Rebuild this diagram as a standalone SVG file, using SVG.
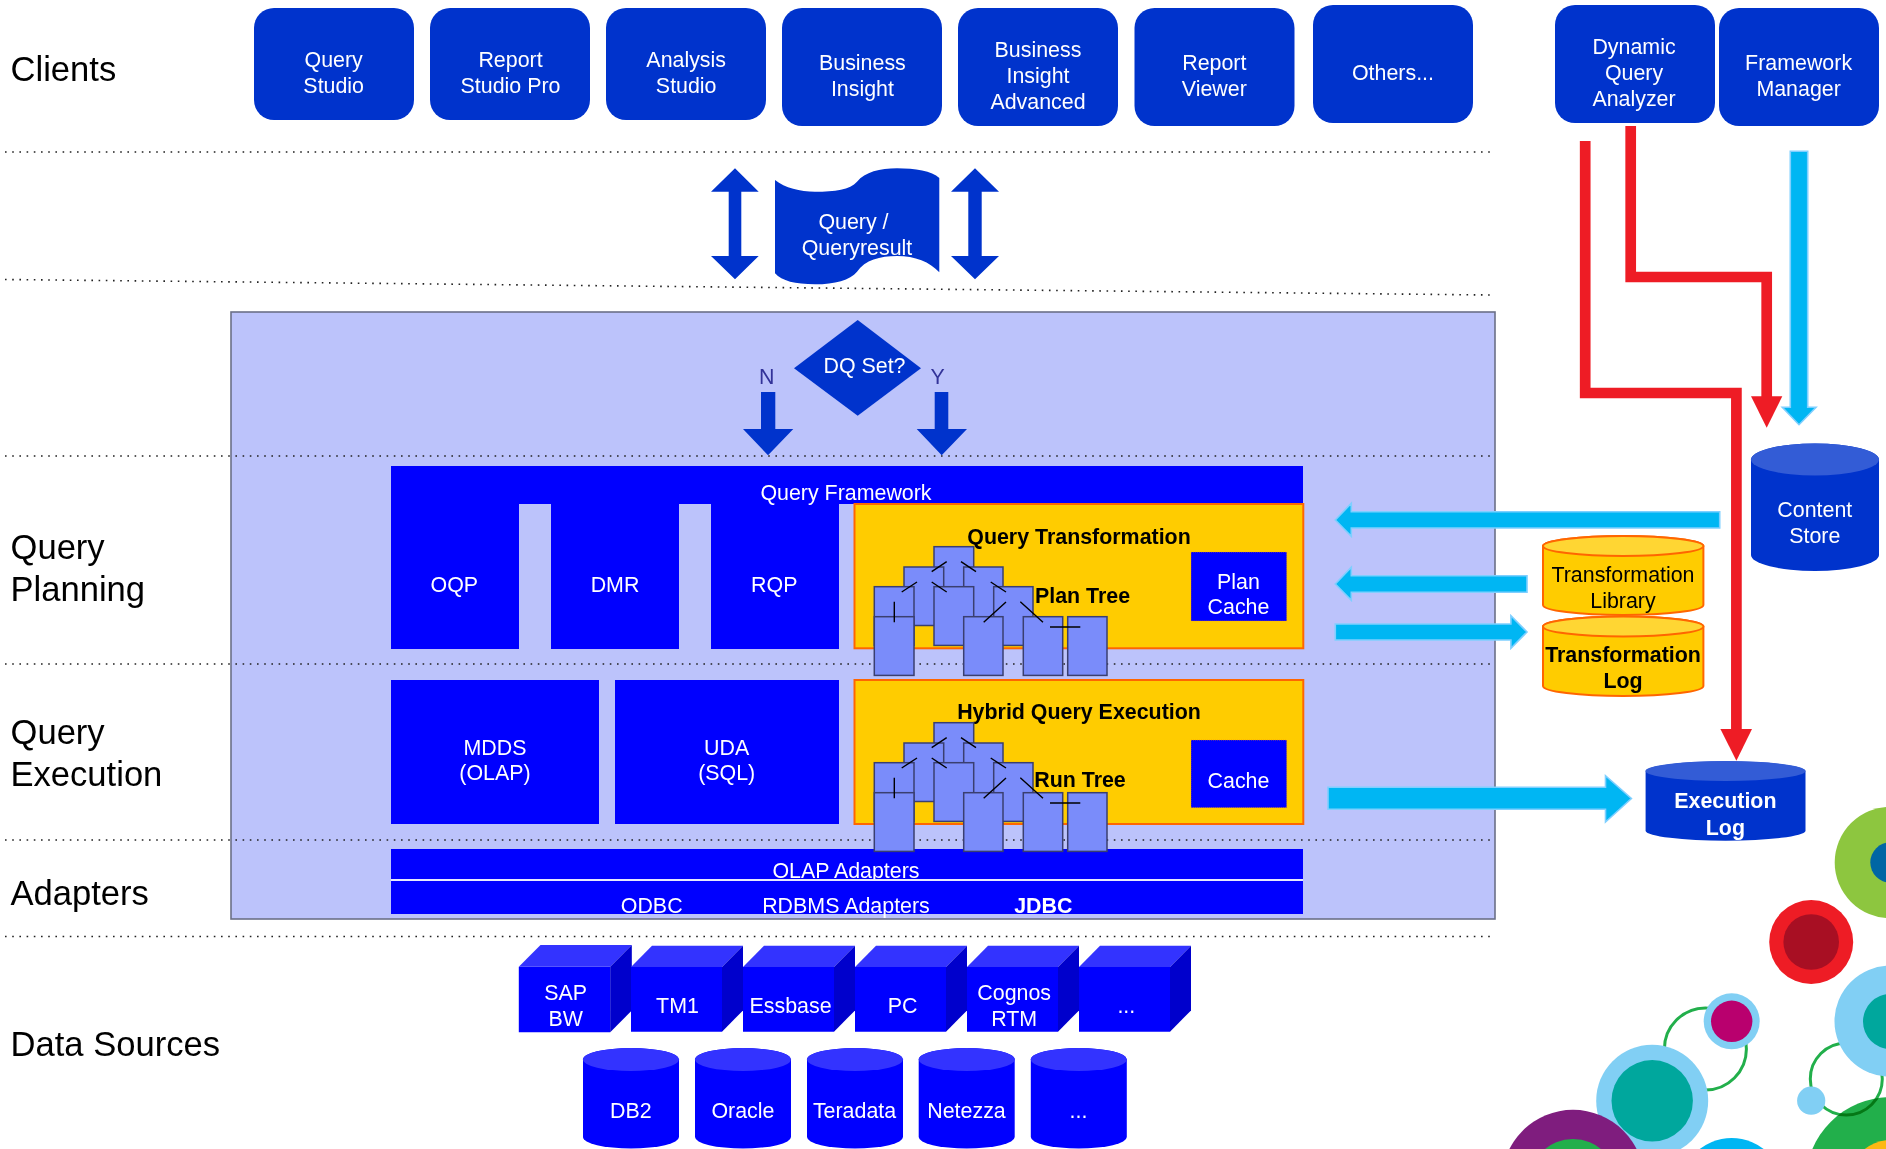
<svg xmlns="http://www.w3.org/2000/svg" xmlns:xlink="http://www.w3.org/1999/xlink" width="1886" height="1149" viewBox="0 0 1886 1149">
<style>
text{font-family:"Liberation Sans",Arial,sans-serif;font-size:21.4px;text-anchor:middle}
.w{fill:#fff}.k{fill:#000}.b{font-weight:bold}
.lab{font-size:34.6px;text-anchor:start;fill:#000}
.client{fill:#0033CC}
.blue{fill:#0000FF}
.dark{fill:#0033CC}
.yel{fill:#FFCC00;stroke:#FF6600;stroke-width:2}
.ytop{fill:#FFD633;stroke:#FF6600;stroke-width:2}
.cache{fill:#0000FF;stroke:#FF9900;stroke-width:.6;stroke-dasharray:1 1}
.dots{fill:none;stroke:#222;stroke-width:1.6;stroke-dasharray:1.6 5.6}
.tn{fill:#7A8CFA;stroke:#3A3F70;stroke-width:1.5}
.tl{stroke:#000;stroke-width:1.4;fill:none}
.cy{fill:#00B6F3;stroke:#7FCFFF;stroke-width:1.6}
.red{fill:#EE1C25}
.redl{fill:none;stroke:#EE1C25;stroke-width:10.7;stroke-linejoin:miter}
.ft{fill:#3333FF}.fr{fill:#0000CC}
.dtop{fill:#335CD6}
.ring{fill:none;stroke:#22AF4B;stroke-width:3}
</style>
<defs>
<g id="tree">
<rect class="tn" x="934" y="546.7" width="39.7" height="58.7"/>
<rect class="tn" x="904" y="567" width="39.7" height="58.5"/>
<rect class="tn" x="963.7" y="567" width="39.3" height="58.5"/>
<rect class="tn" x="874.3" y="586.7" width="39.7" height="58.7"/>
<rect class="tn" x="993.7" y="586.7" width="39.3" height="58.7"/>
<rect class="tn" x="934" y="586.7" width="39.7" height="58.7"/>
<rect class="tn" x="874.3" y="616.7" width="39.7" height="58.7"/>
<rect class="tn" x="963.7" y="616.7" width="39.3" height="58.7"/>
<rect class="tn" x="1023.3" y="616.7" width="39.4" height="58.7"/>
<rect class="tn" x="1067.7" y="616.7" width="39.3" height="58.7"/>
<path class="tl" d="M931.7 571.7L946.7 561.7M961 561.7L976 571.7M901.7 592L917 582M931.7 582L946.7 592M990.7 582L1006 592M894.3 601.7V622.3M1006 602L983.7 622.3M1020.3 601.7L1043 622.3M1050 627H1080.3"/>
</g>
</defs>
<rect width="1886" height="1149" fill="#fff"/>

<g id="decoration">
<circle class="ring" cx="1705.4" cy="1049" r="41"/>
<circle cx="1890.5" cy="862.5" r="55.8" fill="#8DC63F"/><circle cx="1890.5" cy="862.5" r="20.2" fill="#0066A4"/>
<circle cx="1811.2" cy="942" r="42" fill="#EE1C25"/><circle cx="1811.2" cy="942" r="27.8" fill="#A80F23"/>
<circle cx="1890.7" cy="1182" r="85" fill="#22AF4B"/><circle cx="1890.7" cy="1182" r="42" fill="#FDB813"/>
<circle class="ring" cx="1846.3" cy="1079" r="36" style="mix-blend-mode:multiply"/>
<circle cx="1890" cy="1021.2" r="55.5" fill="#81CFF4"/><circle cx="1890.5" cy="1021.5" r="27.5" fill="#00A79D"/>
<circle cx="1811.2" cy="1100.7" r="14.1" fill="#81CFF4"/>
<circle cx="1652.2" cy="1100.8" r="56" fill="#81CFF4"/><circle cx="1652.2" cy="1100.8" r="40.7" fill="#00A79D"/>
<circle cx="1731.7" cy="1021.3" r="28" fill="#81CFF4"/><circle cx="1731.7" cy="1021.3" r="20.7" fill="#B9006E"/>
<circle cx="1573" cy="1181" r="71.2" fill="#7F1D7E"/><circle cx="1573" cy="1183" r="44" fill="#22AF4B"/>
<circle cx="1731.7" cy="1190" r="52" fill="#00B6F3"/>
</g>

<g id="engine-panel"><rect x="231" y="312" width="1264" height="607" fill="#BCC3FB" stroke="#6B7088" stroke-width="1.6"/></g>

<g id="separators">
<line class="dots" x1="5" y1="152" x2="1490" y2="152"/>
<line class="dots" x1="5" y1="279.5" x2="1490" y2="295"/>
<line class="dots" x1="5" y1="456" x2="1490" y2="456"/>
<line class="dots" x1="5" y1="664" x2="1490" y2="664"/>
<line class="dots" x1="5" y1="840" x2="1490" y2="840"/>
<line class="dots" x1="5" y1="936.5" x2="1490" y2="936.5"/>
</g>

<g id="layer-labels">
<text class="lab" x="10.5" y="81">Clients</text>
<text class="lab" x="10.5" y="559">Query</text><text class="lab" x="10.5" y="601">Planning</text>
<text class="lab" x="10.5" y="744">Query</text><text class="lab" x="10.5" y="786">Execution</text>
<text class="lab" x="10.5" y="905">Adapters</text>
<text class="lab" x="10.5" y="1056">Data Sources</text>
</g>

<g id="query-studio"><rect class="client" x="254" y="8" width="160" height="112" rx="20"/><text class="w" x="333.7" y="67">Query</text><text class="w" x="333.7" y="92.5">Studio</text></g>
<g id="report-studio-pro"><rect class="client" x="430" y="8" width="160" height="112" rx="20"/><text class="w" x="510.5" y="67">Report</text><text class="w" x="510.5" y="92.5">Studio Pro</text></g>
<g id="analysis-studio"><rect class="client" x="606" y="8" width="160" height="112" rx="20"/><text class="w" x="686.2" y="67">Analysis</text><text class="w" x="686.2" y="92.5">Studio</text></g>
<g id="business-insight"><rect class="client" x="782" y="8" width="160" height="118" rx="20"/><text class="w" x="862.4" y="70">Business</text><text class="w" x="862.4" y="96">Insight</text></g>
<g id="business-insight-advanced"><rect class="client" x="958" y="8" width="160" height="118" rx="20"/><text class="w" x="1038" y="57">Business</text><text class="w" x="1038" y="83">Insight</text><text class="w" x="1038" y="108.5">Advanced</text></g>
<g id="report-viewer"><rect class="client" x="1134.5" y="8" width="160" height="118" rx="20"/><text class="w" x="1214.3" y="70">Report</text><text class="w" x="1214.3" y="96">Viewer</text></g>
<g id="others"><rect class="client" x="1313" y="5" width="160" height="118" rx="20"/><text class="w" x="1393" y="80">Others...</text></g>
<g id="dynamic-query-analyzer"><rect class="client" x="1555" y="5" width="160" height="118" rx="20"/><text class="w" x="1634" y="54">Dynamic</text><text class="w" x="1634" y="80">Query</text><text class="w" x="1634" y="106">Analyzer</text></g>
<g id="framework-manager"><rect class="client" x="1719" y="8" width="160" height="118" rx="20"/><text class="w" x="1798.6" y="70">Framework</text><text class="w" x="1798.6" y="96">Manager</text></g>

<g id="query-result"><path class="dark" d="M775 180C785 188 800 191.7 815 191.7C835 191.7 850 190 857 181.7C865 172 880 168.3 897 168.3C915 168.3 932 171 939.3 178V272.3C930 262 915 256 897 256C880 256 865 260 857 271.7C850 280 835 284.3 815 284.3C795 284.3 782 281 775 273.3Z"/><text class="w" x="853.5" y="229">Query /</text><text class="w" x="857" y="254.5">Queryresult</text></g>

<g id="dq-set"><polygon class="dark" points="794,368.3 857.7,320 921,368.3 857.7,415.7"/><text class="w" x="864.5" y="372.5">DQ Set?</text></g>
<text x="766.7" y="383.5" fill="#333399">N</text>
<text x="937.7" y="383.5" fill="#333399">Y</text>

<g id="query-framework"><path class="blue" d="M391 466H1303V504H839V649H711V504H679V649H551V504H519V649H391Z"/><text class="w" x="846" y="500">Query Framework</text><text class="w" x="454.3" y="591.7">OQP</text><text class="w" x="615" y="591.7">DMR</text><text class="w" x="774.3" y="591.7">RQP</text></g>

<g id="query-transformation"><rect class="yel" x="854.5" y="504" width="448.8" height="144.3"/><text class="k b" x="1079" y="544">Query Transformation</text><text class="k b" x="1082.5" y="602.7">Plan Tree</text></g>
<g id="plan-cache"><rect class="cache" x="1191" y="552" width="95.7" height="69"/><text class="w" x="1238.5" y="588.7">Plan</text><text class="w" x="1238.5" y="614">Cache</text></g>

<g id="mdds"><rect class="blue" x="391" y="680" width="208" height="144"/><text class="w" x="495" y="755">MDDS</text><text class="w" x="495" y="780">(OLAP)</text></g>
<g id="uda"><rect class="blue" x="615" y="680" width="224" height="144"/><text class="w" x="726.7" y="755">UDA</text><text class="w" x="726.7" y="780">(SQL)</text></g>

<g id="hybrid-query-execution"><rect class="yel" x="854.5" y="680" width="448.8" height="144"/><text class="k b" x="1079" y="719">Hybrid Query Execution</text><text class="k b" x="1080" y="787.3">Run Tree</text></g>
<g id="cache"><rect class="cache" x="1191" y="740" width="95.7" height="67.7"/><text class="w" x="1238.5" y="788.3">Cache</text></g>

<g id="olap-adapters"><rect class="blue" x="391" y="849" width="912" height="30"/><text class="w" x="846" y="878.3">OLAP Adapters</text></g>
<rect x="391" y="879" width="912" height="2" fill="#E6E8FF"/>
<g id="rdbms-adapters"><rect class="blue" x="391" y="881" width="912" height="33"/><text class="w" x="651.7" y="912.7">ODBC</text><text class="w" x="846" y="912.7">RDBMS Adapters</text><text class="w b" x="1043.3" y="912.7">JDBC</text></g>

<g id="plan-tree"><use href="#tree" xlink:href="#tree"/></g>
<g id="run-tree"><use href="#tree" xlink:href="#tree" y="176"/></g>

<g id="transformation-library"><path class="yel" d="M1543 546A80.2 10 0 0 1 1703.4 546V605A80.2 10 0 0 1 1543 605Z"/><ellipse class="ytop" cx="1623.2" cy="546" rx="80.2" ry="10"/><text class="k" x="1623" y="582.3">Transformation</text><text class="k" x="1623" y="608.3">Library</text></g>
<g id="transformation-log"><path class="yel" d="M1543 626.5A80.2 10 0 0 1 1703.4 626.5V686A80.2 10 0 0 1 1543 686Z"/><ellipse class="ytop" cx="1623.2" cy="626.5" rx="80.2" ry="10"/><text class="k b" x="1623" y="662.3">Transformation</text><text class="k b" x="1623" y="688.3">Log</text></g>
<g id="content-store"><path class="dark" d="M1751 459.5A64 16 0 0 1 1879 459.5V555A64 16 0 0 1 1751 555Z"/><ellipse class="dtop" cx="1815" cy="459.5" rx="64" ry="16"/><text class="w" x="1814.8" y="517.3">Content</text><text class="w" x="1814.8" y="543.3">Store</text></g>
<g id="execution-log"><path class="dark" d="M1645.6 771A80 10 0 0 1 1805.5 771V831A80 10 0 0 1 1645.6 831Z"/><ellipse class="dtop" cx="1725.5" cy="771" rx="80" ry="10"/><text class="w b" x="1725.4" y="808.3">Execution</text><text class="w b" x="1725.4" y="835">Log</text></g>

<g id="sap-bw"><polygon class="blue" points="518.8,966.7 610.2,966.7 610.2,1032.3 518.8,1032.3"/><polygon class="ft" points="518.8,966.7 540.5,945 631.8,945 610.2,966.7"/><polygon class="fr" points="610.2,966.7 631.8,945 631.8,1010.5 610.2,1032.3"/><text class="w" x="565.7" y="1000">SAP</text><text class="w" x="565.7" y="1025.7">BW</text></g>
<g id="tm1"><polygon class="blue" points="631,967 722,967 722,1031.7 631,1031.7"/><polygon class="ft" points="631,967 652,945.7 743,945.7 722,967"/><polygon class="fr" points="722,967 743,945.7 743,1010.4 722,1031.7"/><text class="w" x="677.5" y="1012.7">TM1</text></g>
<g id="essbase"><polygon class="blue" points="743,967 834,967 834,1031.7 743,1031.7"/><polygon class="ft" points="743,967 764,945.7 855,945.7 834,967"/><polygon class="fr" points="834,967 855,945.7 855,1010.4 834,1031.7"/><text class="w" x="790.6" y="1012.7">Essbase</text></g>
<g id="pc"><polygon class="blue" points="855,967 946,967 946,1031.7 855,1031.7"/><polygon class="ft" points="855,967 876,945.7 967,945.7 946,967"/><polygon class="fr" points="946,967 967,945.7 967,1010.4 946,1031.7"/><text class="w" x="902.7" y="1012.7">PC</text></g>
<g id="cognos-rtm"><polygon class="blue" points="967,967 1058,967 1058,1031.7 967,1031.7"/><polygon class="ft" points="967,967 988,945.7 1079,945.7 1058,967"/><polygon class="fr" points="1058,967 1079,945.7 1079,1010.4 1058,1031.7"/><text class="w" x="1014.2" y="1000">Cognos</text><text class="w" x="1014.2" y="1025.7">RTM</text></g>
<g id="cube-more"><polygon class="blue" points="1079,967 1170,967 1170,1031.7 1079,1031.7"/><polygon class="ft" points="1079,967 1100,945.7 1191,945.7 1170,967"/><polygon class="fr" points="1170,967 1191,945.7 1191,1010.4 1170,1031.7"/><text class="w" x="1126.3" y="1012.7">...</text></g>

<g id="db2"><path class="blue" d="M583 1059.5A48 11.5 0 0 1 679 1059.5V1137A48 11.5 0 0 1 583 1137Z"/><ellipse class="ft" cx="631" cy="1059.5" rx="48" ry="11.5"/><text class="w" x="630.9" y="1117.7">DB2</text></g>
<g id="oracle"><path class="blue" d="M695 1059.5A48 11.5 0 0 1 791 1059.5V1137A48 11.5 0 0 1 695 1137Z"/><ellipse class="ft" cx="743" cy="1059.5" rx="48" ry="11.5"/><text class="w" x="742.9" y="1117.7">Oracle</text></g>
<g id="teradata"><path class="blue" d="M807 1059.5A48 11.5 0 0 1 903 1059.5V1137A48 11.5 0 0 1 807 1137Z"/><ellipse class="ft" cx="855" cy="1059.5" rx="48" ry="11.5"/><text class="w" x="854.5" y="1117.7">Teradata</text></g>
<g id="netezza"><path class="blue" d="M918.7 1059.5A48 11.5 0 0 1 1014.7 1059.5V1137A48 11.5 0 0 1 918.7 1137Z"/><ellipse class="ft" cx="966.7" cy="1059.5" rx="48" ry="11.5"/><text class="w" x="966.5" y="1117.7">Netezza</text></g>
<g id="cylinder-more"><path class="blue" d="M1030.8 1059.5A48 11.5 0 0 1 1126.8 1059.5V1137A48 11.5 0 0 1 1030.8 1137Z"/><ellipse class="ft" cx="1078.8" cy="1059.5" rx="48" ry="11.5"/><text class="w" x="1078.5" y="1117.7">...</text></g>

<g id="connectors">
<polygon class="dark" points="735,168.3 758.7,191.7 741.3,191.7 741.3,256 758.7,256 735,279.3 711,256 728.7,256 728.7,191.7 711,191.7"/>
<polygon class="dark" points="975,168.3 999,191.7 981.7,191.7 981.7,256 999,256 975,279.3 951,256 968.3,256 968.3,191.7 951,191.7"/>
<polygon class="dark" points="761,392 775.3,392 775.3,429 793.3,429 768,455.3 743,429 761,429"/>
<polygon class="dark" points="934.7,392 948.3,392 948.3,429 967,429 941.7,455.3 916.7,429 934.7,429"/>
<path class="redl" d="M1585.2 141V393H1736.4V730"/>
<polygon class="red" points="1720.4,729 1752,729 1736.4,760.7"/>
<path class="redl" d="M1630.7 126V277H1766.7V397"/>
<polygon class="red" points="1751,396.3 1782.3,396.3 1766.7,427.7"/>
<polygon class="cy" points="1790.3,151.3 1807.7,151.3 1807.7,407.3 1816,407.3 1799,424.7 1782.3,407.3 1790.3,407.3"/>
<polygon class="cy" points="1719.7,511.7 1719.7,528 1351.3,528 1351.3,536.3 1335.3,520 1351.3,503.3 1351.3,511.7"/>
<polygon class="cy" points="1527,575.7 1527,592.3 1351.3,592.3 1351.3,600.3 1335.3,584 1351.3,567.3 1351.3,575.7"/>
<polygon class="cy" points="1335.3,624 1510.9,624 1510.9,615.7 1527,632 1510.9,648.3 1510.9,640 1335.3,640"/>
<polygon class="cy" points="1328,787.3 1605.5,787.3 1605.5,775.7 1631.4,798.5 1605.5,822 1605.5,809.3 1328,809.3"/>
</g>
</svg>
